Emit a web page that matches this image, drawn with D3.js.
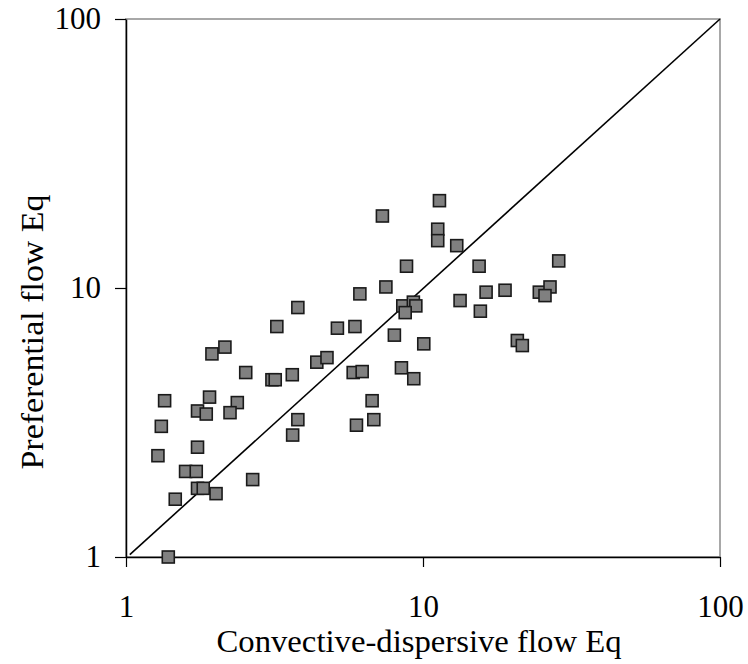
<!DOCTYPE html>
<html>
<head>
<meta charset="utf-8">
<script src="https://cdn.jsdelivr.net/npm/d3@7"></script>
<style>
  body { margin: 0; background: #fff; }
  svg text { font-family: "Liberation Serif", "Times New Roman", serif; fill: #000; }
</style>
</head>
<body>
<svg id="chart" width="748" height="664"></svg>
<script>
// convective-dispersive (x) vs preferential (y) flow Eq
var xValues = [11.36, 7.30, 11.21, 11.21, 12.99, 8.80, 15.45, 28.64, 7.50, 6.13,
               3.79, 3.22, 5.15, 5.90, 8.55, 9.28, 9.46, 8.71, 13.33, 16.31,
               18.89, 24.64, 26.77, 25.75, 15.60, 1.947, 2.153, 4.39, 4.75, 8.01,
               10.06, 20.78, 21.60, 2.53, 3.10, 3.18, 3.63, 5.82, 6.24, 8.46,
               9.31, 6.74, 6.83, 5.97, 1.349, 1.911, 1.741, 1.863, 2.37, 2.24,
               3.79, 3.64, 1.315, 1.741, 1.281, 1.587, 1.724, 1.741, 1.82, 2.01,
               2.67, 1.465, 1.388];
var yValues = [21.12, 18.52, 16.54, 15.0, 14.37, 12.05, 12.05, 12.61, 10.09, 9.51,
               8.46, 7.19, 7.09, 7.19, 8.58, 8.86, 8.58, 8.10, 8.98, 9.65,
               9.81, 9.65, 10.09, 9.37, 8.20, 5.69, 6.03, 5.30, 5.51, 6.68,
               6.20, 6.38, 6.11, 4.85, 4.56, 4.56, 4.76, 4.85, 4.89, 5.05,
               4.60, 3.81, 3.24, 3.09, 3.81, 3.93, 3.49, 3.40, 3.75, 3.44,
               3.24, 2.84, 3.06, 2.56, 2.38, 2.08, 2.08, 1.80, 1.80, 1.72,
               1.94, 1.64, 1.00];
var xTicks = [1, 10, 100];
var yTicks = [1, 10, 100];
var oneToOne = [[1.03, 1.02], [100, 100]];

var svg = d3.select('#chart');

var xScale = d3.scaleLog().domain([1, 100]).range([126, 720]);
var yScale = d3.scaleLog().domain([1, 100]).range([557, 19]);

// plot area border (grey)
svg.append('rect')
   .attr('x', xScale(1))
   .attr('y', yScale(100))
   .attr('width', xScale(100) - xScale(1))
   .attr('height', yScale(1) - yScale(100))
   .attr('fill', 'none')
   .attr('stroke', '#a8a8a8')
   .attr('stroke-width', 2);

var xAxis = d3.axisBottom(xScale).tickValues(xTicks).tickSize(10).tickSizeOuter(0)
              .tickPadding(28).tickFormat(d3.format('d'));
var yAxis = d3.axisLeft(yScale).tickValues(yTicks).tickSize(11).tickSizeOuter(0)
              .tickPadding(14).tickFormat(d3.format('d'));

var gx = svg.append('g')
   .attr('transform', 'translate(0,' + yScale(1) + ')')
   .call(xAxis);
var gy = svg.append('g')
   .attr('transform', 'translate(' + xScale(1) + ',0)')
   .call(yAxis);

[gx, gy].forEach(function(g) {
    g.select('.domain').attr('stroke', '#000').attr('stroke-width', 1.5);
    g.selectAll('.tick line').attr('stroke', '#000').attr('stroke-width', 1.2);
    g.selectAll('.tick text').attr('font-size', 31)
     .attr('font-family', 'Liberation Serif');
});

// 1:1 line
var line = d3.line().x(function(d) { return xScale(d[0]); })
                    .y(function(d) { return yScale(d[1]); });
svg.append('path')
   .attr('d', line(oneToOne))
   .attr('fill', 'none')
   .attr('stroke', '#000')
   .attr('stroke-width', 1.6);

// markers
var s = 12;
svg.selectAll('rect.pt').data(xValues)
   .enter()
   .append('rect')
   .attr('class', 'pt')
   .attr('x', function(d) { return xScale(d) - s / 2; })
   .attr('y', function(d, i) { return yScale(yValues[i]) - s / 2; })
   .attr('width', s)
   .attr('height', s)
   .attr('fill', '#808080')
   .attr('stroke', '#1a1a1a')
   .attr('stroke-width', 1.6);

// axis titles
svg.append('text')
   .attr('x', 419)
   .attr('y', 652)
   .attr('text-anchor', 'middle')
   .attr('font-size', 31)
   .attr('textLength', 405)
   .attr('lengthAdjust', 'spacingAndGlyphs')
   .text('Convective-dispersive flow Eq');

svg.append('text')
   .attr('transform', 'translate(43,332) rotate(-90)')
   .attr('text-anchor', 'middle')
   .attr('font-size', 31)
   .attr('textLength', 275)
   .attr('lengthAdjust', 'spacingAndGlyphs')
   .text('Preferential flow Eq');
</script>
</body>
</html>
